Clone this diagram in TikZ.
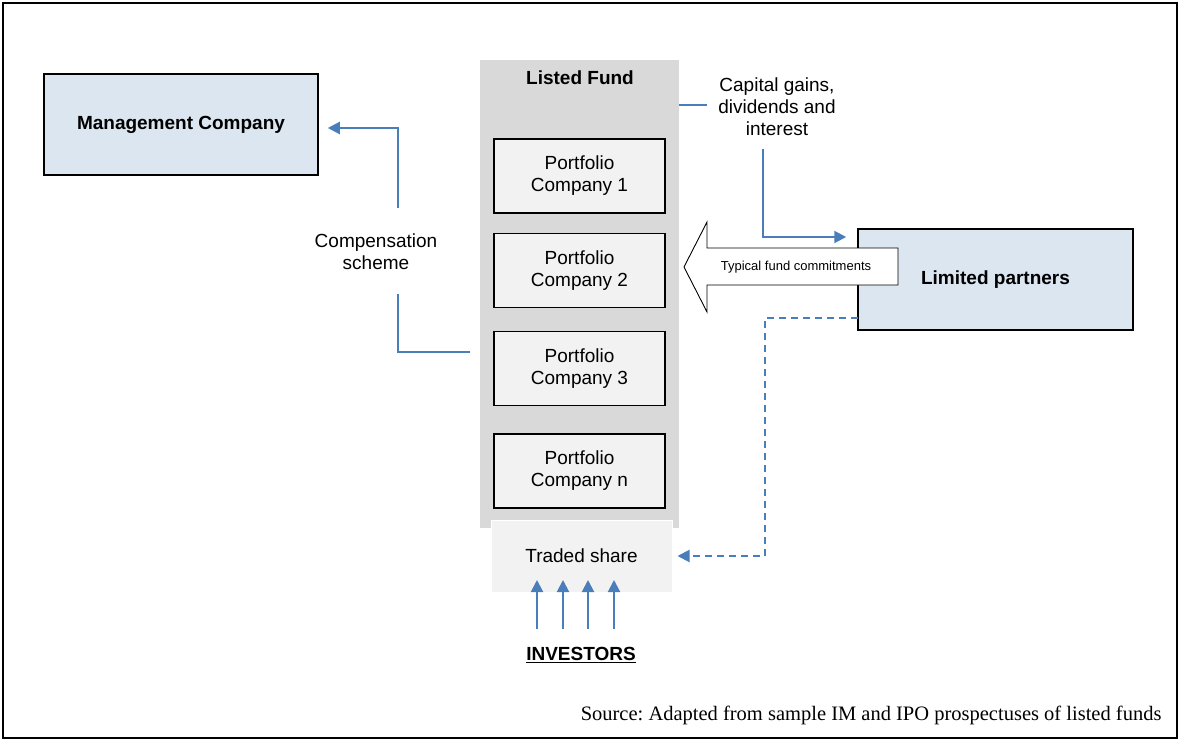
\documentclass[tikz,border=0pt]{standalone}
\usepackage{fontspec}
\setmainfont{Liberation Sans}
\newfontfamily\srcfont{Liberation Serif}
\usetikzlibrary{arrows.meta}
\definecolor{lnblue}{HTML}{4A7EBB}
\definecolor{boxblue}{HTML}{DCE6F1}
\definecolor{fundgray}{HTML}{D9D9D9}
\definecolor{pcgray}{HTML}{F2F2F2}
\tikzset{
  main/.style={font=\fontsize{19}{22}\selectfont},
  bluebox/.style={draw=black,line width=1.5pt,fill=boxblue,font=\fontsize{19}{22}\selectfont\bfseries},
  pcbox/.style={draw=black,line width=1.5pt,fill=pcgray,minimum width=171pt,minimum height=74pt,align=center,font=\fontsize{19}{22}\selectfont},
  conn/.style={draw=lnblue,line width=2pt},
  tip/.style={-{Triangle[length=12pt,width=12pt]}},
}
\begin{document}
\frenchspacing
\begin{tikzpicture}[x=1pt,y=-1pt]
\useasboundingbox (0,0) rectangle (1180,741);
\draw[line width=2.2pt] (3,3) rectangle (1177,738);

% boxes
\node[bluebox,minimum width=274pt,minimum height=101pt] (mc) at (181,124.5) {Management Company};
\node[fill=fundgray,minimum width=199pt,minimum height=468pt,inner sep=0pt] (fund) at (579.5,294) {};
\node[main,font=\fontsize{19}{22}\selectfont\bfseries] (lf) at (580,78) {Listed Fund};
\node[pcbox] (pc1) at (579.5,176) {Portfolio\\Company 1};
\node[pcbox] (pc2) at (579.5,270.5) {Portfolio\\Company 2};
\node[pcbox] (pc3) at (579.5,368.5) {Portfolio\\Company 3};
\node[pcbox] (pcn) at (579.5,471) {Portfolio\\Company n};
\node[draw=white,line width=1pt,fill=pcgray,minimum width=181pt,minimum height=72pt,main] (ts) at (581.5,556) {Traded share};
\node[bluebox,minimum width=275pt,minimum height=101pt] (lp) at (995.5,279.5) {Limited partners};

% big arrow
\draw[fill=white,line width=0.9pt] (684,267) -- (707,222) -- (707,248) -- (898,248) -- (898,285) -- (707,285) -- (707,312) -- cycle;
\node[font=\fontsize{13}{15}\selectfont] (tfc) at (796,267) {Typical fund commitments};

% capital gains
\node[main,align=center,inner sep=0pt] (cg) at (777,107) {Capital gains,\\dividends and\\interest};
\coordinate (cgl) at (707,105);
\coordinate (cgb) at (763,149);
\coordinate (cgc) at (763,237);
\draw[conn] (fund.east |- cgl) -- (cgl);
\draw[conn,tip] (cgb) -- (cgc) -- ([xshift=-11pt]lp.west |- cgc);

% compensation
\node[main,align=center,inner sep=0pt] (comp) at (376,252) {Compensation\\scheme};
\coordinate (ct) at (398,208);
\coordinate (cb) at (398,294);
\coordinate (cr) at (470,352);
\draw[conn,tip,shorten >=9pt] (ct) |- ([yshift=-3.5pt]mc.east);
\draw[conn] (cb) |- (cr);

% dashed to traded share
\coordinate (lpd) at (858,318);
\coordinate (dc) at (765,556);
\draw[conn,tip,dash pattern=on 7pt off 5pt,shorten >=5pt] (lpd) -| (dc) -- (ts.east);

% investors
\node[font=\fontsize{19}{22}\selectfont\bfseries] (inv) at (581,655) {\underline{INVESTORS}};
\foreach \x/\n in {537/a,563/b,588/c,614/d}{
  \coordinate (i\n) at (\x,629);
  \coordinate (t\n) at (\x,580);
  \draw[conn,tip] (i\n) -- (t\n);
}

% source
\node[anchor=east,font=\srcfont\fontsize{20.5}{23}\selectfont] (src) at (1165,715) {Source: Adapted from sample IM and IPO prospectuses of listed funds};
\end{tikzpicture}
\end{document}
